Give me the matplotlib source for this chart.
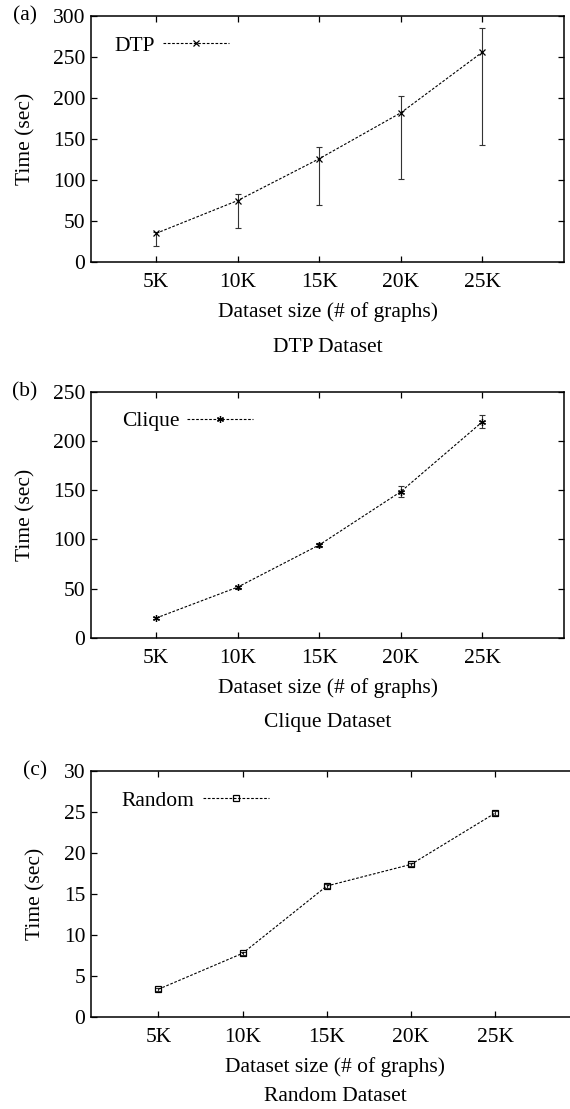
import matplotlib
matplotlib.use("Agg")
import matplotlib.pyplot as plt

plt.rcParams['font.family'] = ['Liberation Serif', 'DejaVu Serif']
plt.rcParams['font.size'] = 15.5

# dataset sizes (thousands of graphs)
sizes = [5, 10, 15, 20, 25]
size_labels = ['5K', '10K', '15K', '20K', '25K']

# (a) DTP: mean time with min / max
dtp_time = [35, 75, 126, 182, 256]
dtp_low = [20, 42, 70, 101, 143]
dtp_high = [37, 83, 140, 202, 285]

# (b) Clique: mean time with +/- error
clique_time = [20.3, 51.7, 94.5, 148.6, 219.5]
clique_err = [1.0, 1.5, 2.4, 5.6, 6.4]

# (c) Random: mean time with +/- error
random_time = [3.35, 7.74, 15.96, 18.6, 24.87]
random_err = [0.2, 0.2, 0.2, 0.2, 0.2]

W, H = 570, 1109
fig = plt.figure(figsize=(W / 100, H / 100), dpi=100)


def px_axes(left, top, right, bottom):
    return fig.add_axes([left / W, 1 - bottom / H, (right - left) / W, (bottom - top) / H])


def style_axes(ax, ymax, ystep):
    ax.set_xlim(1, 30)
    ax.set_ylim(0, ymax)
    ax.set_xticks(sizes)
    ax.set_xticklabels(size_labels)
    ax.set_yticks(range(0, ymax + 1, ystep))
    ax.tick_params(direction='in', top=True, right=True, length=4, width=0.9)
    ax.tick_params(axis='x', pad=8)
    ax.tick_params(axis='y', pad=4)
    for s in ax.spines.values():
        s.set_linewidth(1.1)


dash = (0, (2.4, 1.5))
panels = [
    dict(box=(91, 16, 564, 262), tag='(a)', tag_x=25, ylab_x=26, name='DTP',
         title='DTP Dataset', title_dy=86, y=dtp_time,
         err=[[t - l for t, l in zip(dtp_time, dtp_low)],
              [h - t for t, h in zip(dtp_time, dtp_high)]],
         marker='x', ms=4.5, ymax=300, ystep=50, leg_x=0.05),
    dict(box=(91, 391.7, 564, 638), tag='(b)', tag_x=25, ylab_x=26, name='Clique',
         title='Clique Dataset', title_dy=84, y=clique_time, err=clique_err,
         marker=(6, 2, 0), ms=5, ymax=250, ystep=50, leg_x=0.065),
    dict(box=(91, 771, 579.5, 1016.7), tag='(c)', tag_x=35, ylab_x=36, name='Random',
         title='Random Dataset', title_dy=80, y=random_time, err=random_err,
         marker='s', ms=4.2, ymax=30, ystep=5, leg_x=0.063),
]

for p in panels:
    left, top, right, bottom = p['box']
    ax = px_axes(left, top, right, bottom)
    width_px = right - left
    ax.errorbar(sizes, p['y'], yerr=p['err'], fmt='none', ecolor='#333333',
                elinewidth=0.8, capsize=2.2, capthick=0.8)
    ax.plot(sizes, p['y'], ls=dash, lw=0.8, color='black', marker=p['marker'],
            ms=p['ms'], mfc='none', mec='black', mew=0.9, label=p['name'])
    style_axes(ax, p['ymax'], p['ystep'])

    ax.legend(loc='upper left', bbox_to_anchor=(p['leg_x'], 0.92), frameon=False,
              markerfirst=False, handlelength=3.07, handletextpad=0.37,
              borderpad=0, borderaxespad=0)

    ax.text(-(left - p['ylab_x']) / width_px, 0.5, 'Time (sec)', rotation=90, ha='center',
            va='center', transform=ax.transAxes)
    ax.text(-(left - p['tag_x']) / width_px, 1.0, p['tag'],
            ha='center', va='center', transform=ax.transAxes)
    ax.annotate('Dataset size (# of graphs)', xy=(0.5, 0), xycoords='axes fraction',
                xytext=(0, -50 * 0.72), textcoords='offset points', ha='center', va='center')
    ax.annotate(p['title'], xy=(0.5, 0), xycoords='axes fraction',
                xytext=(0, -p['title_dy'] * 0.72), textcoords='offset points',
                ha='center', va='center')

fig.savefig('out.png', dpi=100)
